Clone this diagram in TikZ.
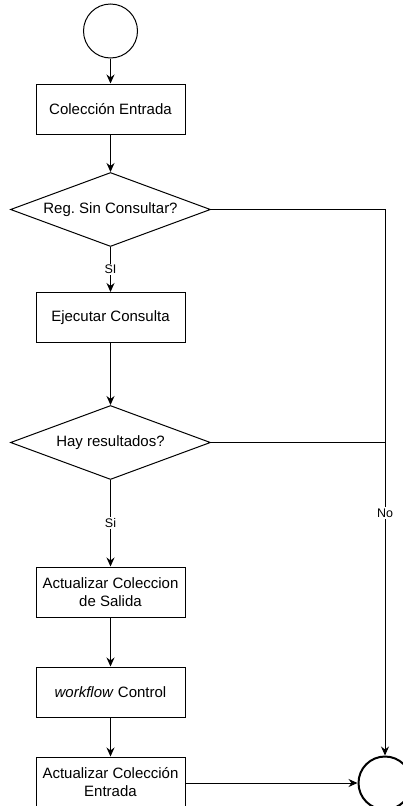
\documentclass[tikz,border=0pt]{standalone}
\usepackage{fontspec}
\setmainfont{Liberation Sans}
\usetikzlibrary{shapes.geometric,arrows.meta}
\frenchspacing
\tikzset{
  flow/.style={line width=1pt,-{Stealth[length=9pt,width=8pt]}},
  plain/.style={line width=1pt},
  procbox/.style={draw,line width=1pt,rectangle,minimum width=149pt,minimum height=50pt,
    inner sep=0pt,align=center,font=\fontsize{15pt}{18pt}\selectfont},
  decision/.style={draw,line width=1pt,diamond,minimum width=200pt,minimum height=74pt,
    inner sep=0pt,aspect=2.7,font=\fontsize{15pt}{18pt}\selectfont},
  edgelabel/.style={fill=white,inner sep=1.5pt,font=\fontsize{12.5pt}{14pt}\selectfont},
}
\begin{document}
\begin{tikzpicture}[x=1pt,y=-1pt]
\useasboundingbox (0,0) rectangle (403,806);

% start and end events
\node[draw,circle,line width=1pt,minimum size=54pt,inner sep=0pt] (start) at (110.5,31) {};
\node[draw,circle,line width=2pt,minimum size=53pt,inner sep=0pt] (finish) at (385,783) {};

% process steps and decisions
\node[procbox] (colin) at (110.5,109) {Colección Entrada};
\node[decision] (regsin) at (110.5,209.5) {Reg.\ Sin Consultar?};
\node[procbox] (ejec) at (110.5,317.5) {Ejecutar Consulta};
\node[decision] (hayres) at (110.5,442.5) {Hay resultados?};
\node[procbox] (actsal) at (110.5,592) {Actualizar Coleccion\\de Salida};
\node[procbox] (wfctl) at (110.5,692) {\textit{workflow} Control};
\node[procbox] (actent) at (110.5,782) {Actualizar Colección\\Entrada};

% main flow
\draw[flow] (start) -- (colin);
\draw[flow] (colin) -- (regsin);
\draw[flow] (regsin) -- node[edgelabel] {SI} (ejec);
\draw[flow] (ejec) -- (hayres);
\draw[flow] (hayres) -- node[edgelabel] {Si} (actsal);
\draw[flow] (actsal) -- (wfctl);
\draw[flow] (wfctl) -- (actent);
\draw[flow] (actent.east |- finish) -- (finish.west);

% "No" branches to the end event
\coordinate (nojoin) at (hayres.east -| finish.north);
\draw[flow] (regsin.east) -| (finish.north);
\draw[plain] (hayres.east) -- (nojoin);
\node[edgelabel] (nolab) at (385,513) {No};
\end{tikzpicture}
\end{document}
